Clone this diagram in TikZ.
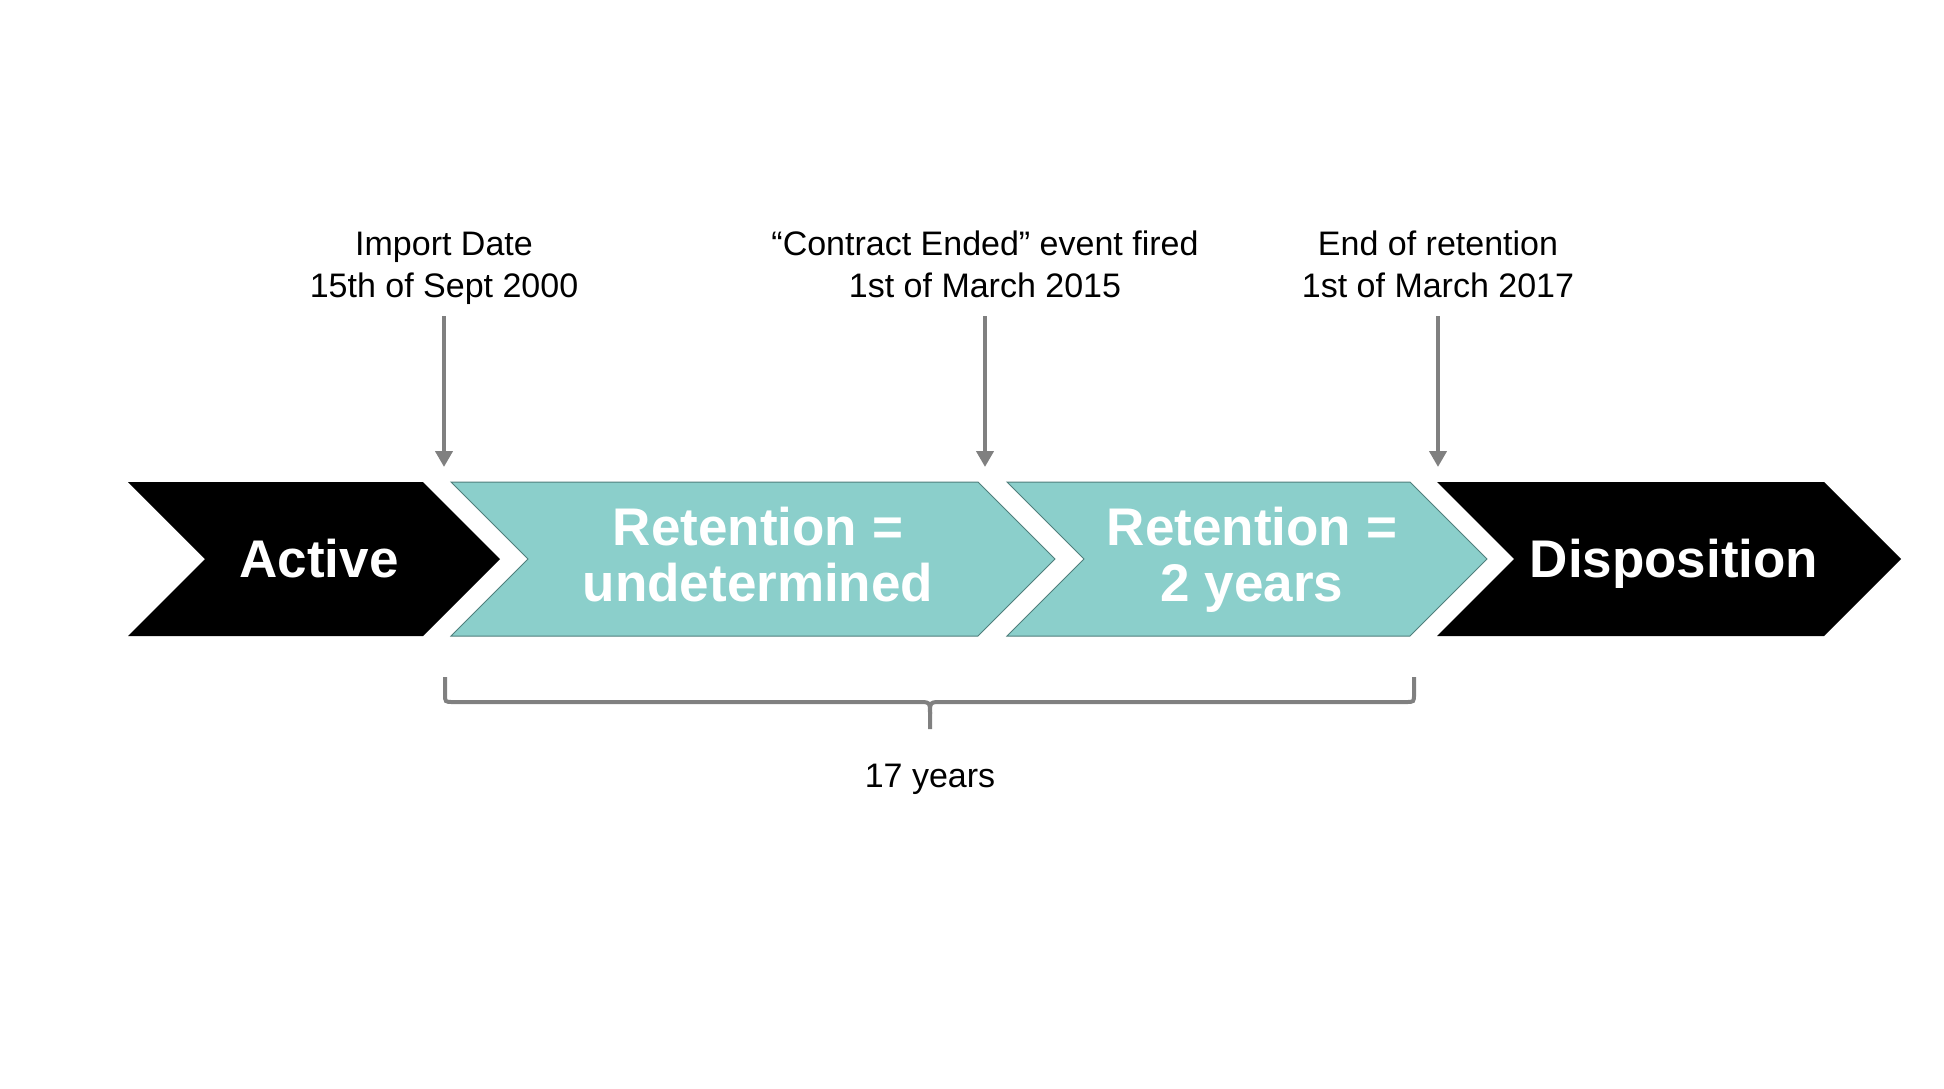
\documentclass[tikz,border=0pt]{standalone}
\usepackage{fontspec}
\setmainfont{Liberation Sans}
\usetikzlibrary{arrows.meta,positioning}
\definecolor{stageteal}{HTML}{8BCFCB}
\definecolor{stageedge}{HTML}{4F7F7C}
\definecolor{markgrey}{HTML}{808080}

\begin{document}
\begin{tikzpicture}[
        x=0.5pt, y=-0.5pt,
        every node/.style={align=center, inner sep=0pt},
        note/.style={font=\fontsize{17}{21}\selectfont, anchor=base},
        stagetext/.style={font=\fontsize{26.5}{28}\selectfont\bfseries, text=white, anchor=base},
        darkstage/.style={fill=black},
        lightstage/.style={fill=stageteal, draw=stageedge, line width=0.5pt},
        marker/.style={draw=markgrey, line width=2pt, -{Triangle[width=8.5pt,length=8pt]}},
        brace/.style={draw=markgrey, line width=2pt},
    ]
    \useasboundingbox (0,0) rectangle (1944,1088);

    % stages
    \foreach \lft/\rgt/\kind/\name in {128/423/darkstage/active, 451/978/lightstage/undet,
        1007/1410/lightstage/twoyr, 1437/1824/darkstage/dispo}{
        \path[\kind] (\lft,482) -- (\rgt,482) -- (\rgt+77,559) -- (\rgt,636)
            -- (\lft,636) -- (\lft+77,559) -- cycle;
        \coordinate (\name) at ({(\lft+77+\rgt)/2+5},559);
    }
    \node[stagetext] (activetext) at ([yshift=-9pt]active) {Active};
    \node[stagetext] (undettext) at ([yshift=-21pt]undet) {Retention =\\undetermined};
    \node[stagetext] (twoyrtext) at ([yshift=-21pt]twoyr) {Retention =\\2 years};
    \node[stagetext] (dispotext) at ([yshift=-9pt]dispo) {Disposition};

    % events
    \node[note] (import) at (444,297) {Import Date\\15th of Sept 2000};
    \node[note] (ended) at (985,297) {``Contract Ended'' event fired\\1st of March 2015};
    \node[note] (endret) at (1438,297) {End of retention\\1st of March 2017};
    \coordinate (importtip) at (444,467);
    \coordinate (endedtip) at (985,467);
    \coordinate (endrettip) at (1438,467);
    \draw[marker] ([yshift=-9.5pt]import.base) -- (importtip);
    \draw[marker] ([yshift=-9.5pt]ended.base) -- (endedtip);
    \draw[marker] ([yshift=-9.5pt]endret.base) -- (endrettip);

    % span
    \draw[brace] (445,677) -- (445,694) .. controls (445,702) .. (453,702) -- (918,702)
        .. controls (930,702) .. (930,714) -- (930,729);
    \draw[brace] (1414,677) -- (1414,694) .. controls (1414,702) .. (1406,702) -- (942,702)
        .. controls (930,702) .. (930,714);
    \node[note] (span) at (930,787) {17 years};

\end{tikzpicture}
\end{document}
